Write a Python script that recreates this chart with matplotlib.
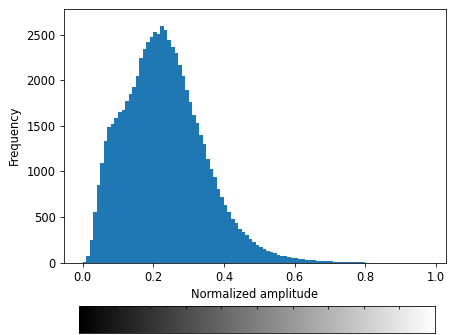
import numpy as np
import matplotlib
matplotlib.use('Agg')
import matplotlib.pyplot as plt

# bin counts, bins of width 0.01 starting at 0.0
counts = [5, 70, 245, 555, 855, 1095, 1340, 1490, 1520, 1590,
          1650, 1675, 1770, 1850, 1930, 2050, 2250, 2345, 2420, 2480,
          2530, 2510, 2600, 2560, 2450, 2370, 2300, 2170, 2050, 1900,
          1760, 1620, 1530, 1400, 1300, 1140, 1030, 940, 810, 725,
          635, 555, 480, 432, 370, 336, 298, 262, 220, 190,
          165, 145, 125, 110, 99, 85, 75, 68, 62, 55,
          48, 40, 35, 30, 25, 23, 20, 17, 15, 13,
          12, 10, 9, 7, 5, 4, 4, 3, 2, 1]
bin_width = 0.01
edges = np.arange(len(counts) + 1) * bin_width
centers = edges[:-1] + bin_width / 2

plt.rcParams['font.size'] = 11.5
plt.rcParams['xtick.major.size'] = 4
plt.rcParams['ytick.major.size'] = 4
plt.rcParams['xtick.major.pad'] = 4.5
plt.rcParams['ytick.major.pad'] = 4.5

# 72 dpi figure, 452x335 px
fig = plt.figure(figsize=(452 / 72, 335 / 72), dpi=72)
ax = fig.add_axes([0.1416, 0.2164, 0.8451, 0.7566])
ax.hist(centers, bins=edges, weights=counts, color='#1f77b4', histtype='stepfilled')
ax.set_xlim(-0.053, 1.029)
ax.set_ylim(0, 2785)
ax.set_xticks([0.0, 0.2, 0.4, 0.6, 0.8, 1.0])
ax.set_yticks([0, 500, 1000, 1500, 2000, 2500])
ax.set_xlabel('Normalized amplitude', labelpad=4)
ax.set_ylabel('Frequency', labelpad=5)

# grayscale bar under the histogram
cax = fig.add_axes([0.1748, 0.007, 0.7876, 0.0806])
grad = np.linspace(0, 1, 256).reshape(1, -1)
cax.imshow(grad, cmap='gray', aspect='auto', extent=[0, 1, 0, 1])
cax.set_xticks(np.arange(1, 10) / 10)
cax.set_yticks([])
cax.tick_params(axis='x', top=True, bottom=False, direction='in',
                labeltop=False, labelbottom=False, length=3)

fig.savefig('out.png', dpi=72)
